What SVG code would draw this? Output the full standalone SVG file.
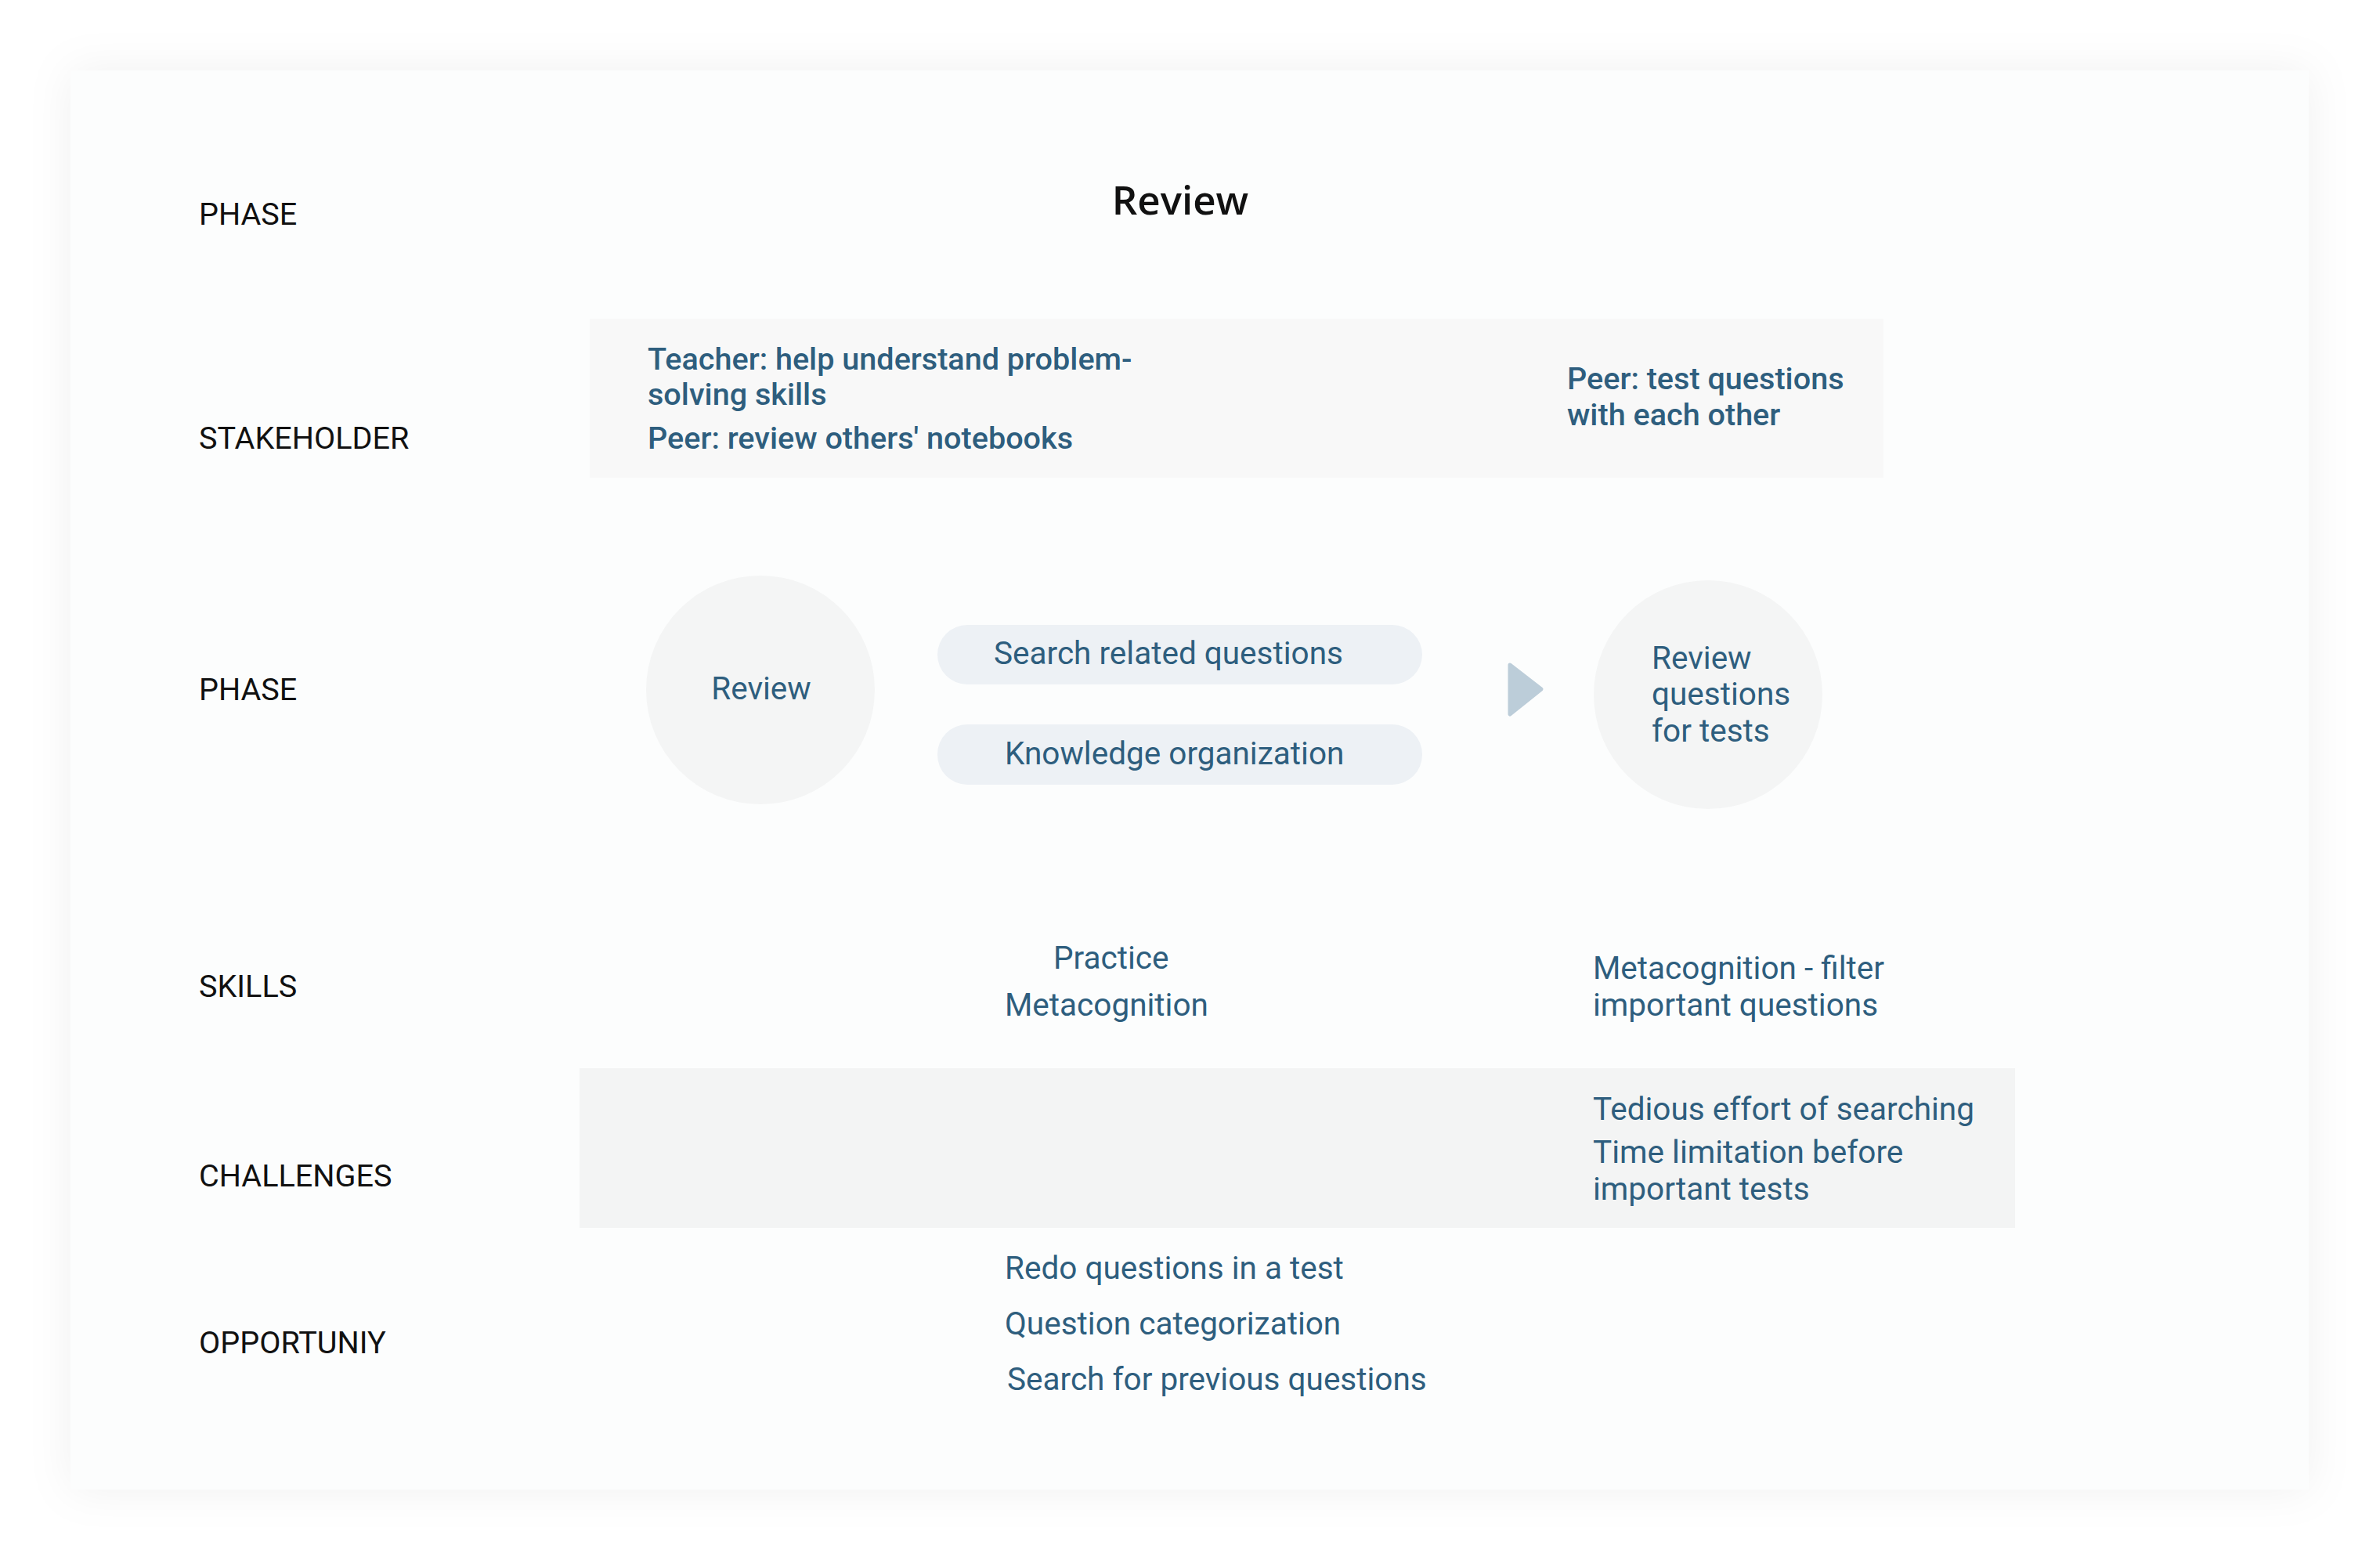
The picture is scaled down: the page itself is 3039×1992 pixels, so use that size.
<svg xmlns="http://www.w3.org/2000/svg" width="3039" height="1992" viewBox="0 0 3039 1992">
<defs>
<filter id="shadow" x="-10%" y="-10%" width="120%" height="120%">
<feDropShadow dx="0" dy="0" stdDeviation="28" flood-color="#000000" flood-opacity="0.06"/>
</filter>
</defs>
<style>
.lbl{font-family:Roboto,"Liberation Sans",sans-serif;font-size:39.6px;fill:#111111}
.title{font-family:"Open Sans","Noto Sans",sans-serif;font-size:51px;font-weight:600;fill:#111111}
.t{font-family:Roboto,"Liberation Sans",sans-serif;font-size:40.5px;fill:#2e5e7e}
.tb{font-family:Roboto,"Liberation Sans",sans-serif;font-size:39.6px;font-weight:500;fill:#2e5e7e}
.circ{fill:#f4f5f5}
.pill{fill:#edf1f5}
</style>
<rect x="0" y="0" width="3039" height="1992" fill="#ffffff"/>
<rect x="90" y="90" width="2858" height="1812" fill="#fcfdfd" filter="url(#shadow)"/>

<g id="row-labels">
<text class="lbl" x="254" y="287">PHASE</text>
<text class="lbl" x="254" y="573">STAKEHOLDER</text>
<text class="lbl" x="254" y="894">PHASE</text>
<text class="lbl" x="254" y="1273">SKILLS</text>
<text class="lbl" x="254" y="1515">CHALLENGES</text>
<text class="lbl" x="254" y="1728">OPPORTUNIY</text>
</g>

<g id="title">
<text class="title" x="1507" y="274" text-anchor="middle">Review</text>
</g>

<g id="stakeholder">
<rect x="753" y="407" width="1652" height="203" fill="#f8f8f8"/>
<text class="tb" x="827" y="472">Teacher: help understand problem-</text>
<text class="tb" x="827" y="517">solving skills</text>
<text class="tb" x="827" y="573">Peer: review others' notebooks</text>
<text class="tb" x="2001" y="497">Peer: test questions</text>
<text class="tb" x="2001" y="543">with each other</text>
</g>

<g id="phase-review">
<circle class="circ" cx="971" cy="881" r="146"/>
<text class="t" x="972" y="893" text-anchor="middle">Review</text>
</g>

<g id="step-search">
<rect class="pill" x="1197" y="798" width="619" height="76" rx="38"/>
<text class="t" x="1269" y="848">Search related questions</text>
</g>

<g id="step-knowledge">
<rect class="pill" x="1197" y="925" width="619" height="77" rx="38"/>
<text class="t" x="1283" y="976">Knowledge organization</text>
</g>

<g id="connectors">
<polygon points="1928,849 1968,880 1928,912" fill="#bccdd9" stroke="#bccdd9" stroke-width="5" stroke-linejoin="round"/>
</g>

<g id="phase-review-tests">
<circle class="circ" cx="2181" cy="887" r="146"/>
<text class="t" x="2109" y="854">Review</text>
<text class="t" x="2109" y="900">questions</text>
<text class="t" x="2109" y="947">for tests</text>
</g>

<g id="skills">
<text class="t" x="1345" y="1237">Practice</text>
<text class="t" x="1283" y="1297">Metacognition</text>
<text class="t" x="2034" y="1250">Metacognition - filter</text>
<text class="t" x="2034" y="1297">important questions</text>
</g>

<g id="challenges">
<rect x="740" y="1364" width="1833" height="204" fill="#f3f4f4"/>
<text class="t" x="2034" y="1430">Tedious effort of searching</text>
<text class="t" x="2034" y="1485">Time limitation before</text>
<text class="t" x="2034" y="1532">important tests</text>
</g>

<g id="opportunity">
<text class="t" x="1283" y="1633">Redo questions in a test</text>
<text class="t" x="1283" y="1704">Question categorization</text>
<text class="t" x="1286" y="1775">Search for previous questions</text>
</g>
</svg>
